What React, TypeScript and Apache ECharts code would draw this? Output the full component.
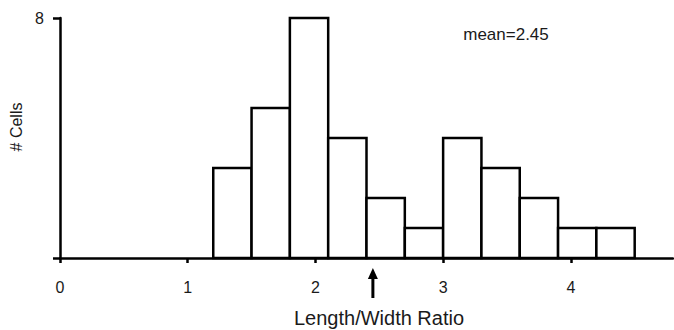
import React, { useEffect, useRef } from "react";
import * as echarts from "echarts";

const binStarts = [1.2, 1.5, 1.8, 2.1, 2.4, 2.7, 3.0, 3.3, 3.6, 3.9, 4.2];
const counts = [3, 5, 8, 4, 2, 1, 4, 3, 2, 1, 1];
const binWidth = 0.3;
const meanValue = 2.45;
const xTicks = [0, 1, 2, 3, 4];
const yTicks = [0, 8];

export default function App() {
  const ref = useRef<HTMLDivElement>(null);
  useEffect(() => {
    if (!ref.current) return;
    const chart = echarts.init(ref.current, undefined, { renderer: "svg" });
    const font = "'Liberation Sans', Arial, sans-serif";
    const txt = "#1a1a1a";
    const barData = binStarts.map((s, i) => [s, counts[i], s + binWidth]);
    chart.setOption({
      animation: false,
      backgroundColor: "#fff",
      grid: { left: 60, right: 1, top: 18, bottom: 72, containLabel: false },
      xAxis: {
        type: "value",
        min: 0,
        max: 4.8,
        interval: 1,
        splitLine: { show: false },
        axisLine: { lineStyle: { color: "#000", width: 2.5 } },
        axisTick: { length: 5, lineStyle: { color: "#000", width: 2.5 } },
        axisLabel: {
          margin: 21,
          color: txt,
          fontFamily: font,
          fontSize: 16,
          formatter: (v: number) => (xTicks.includes(v) ? String(v) : ""),
          showMaxLabel: false,
        },
      },
      yAxis: {
        type: "value",
        min: 0,
        max: 8,
        interval: 8,
        splitLine: { show: false },
        axisLine: { lineStyle: { color: "#000", width: 2.5 } },
        axisTick: { length: 7, lineStyle: { color: "#000", width: 2.5 } },
        axisLabel: {
          margin: 16,
          color: txt,
          fontFamily: font,
          fontSize: 16,
          formatter: (v: number) => (v === yTicks[1] ? String(v) : ""),
        },
      },
      series: [
        {
          type: "custom",
          data: barData,
          encode: { x: [0, 2], y: 1 },
          renderItem: (params: any, api: any) => {
            const x0 = api.value(0);
            const c = api.value(1);
            const x1 = api.value(2);
            const a = api.coord([x0, c]);
            const b = api.coord([x1, 0]);
            return {
              type: "rect",
              shape: { x: a[0], y: a[1], width: b[0] - a[0], height: b[1] - a[1] },
              style: { fill: "#fff", stroke: "#000", lineWidth: 2.5 },
            };
          },
        },
        {
          type: "custom",
          clip: false,
          data: [[meanValue, 0]],
          encode: { x: 0, y: 1 },
          renderItem: (params: any, api: any) => {
            const p = api.coord([api.value(0), 0]);
            const x = p[0];
            const y = p[1];
            return {
              type: "group",
              children: [
                {
                  type: "rect",
                  shape: { x: x - 1.5, y: y + 18, width: 3, height: 22 },
                  style: { fill: "#000" },
                },
                {
                  type: "polygon",
                  shape: { points: [[x, y + 10], [x - 5, y + 21], [x + 5, y + 21]] },
                  style: { fill: "#000" },
                },
              ],
            };
          },
        },
      ],
      graphic: [
        {
          type: "text",
          x: 16,
          y: 127,
          rotation: Math.PI / 2,
          style: {
            text: "# Cells",
            fill: txt,
            font: `16px ${font}`,
            align: "center",
            verticalAlign: "middle",
          },
        },
        {
          type: "text",
          x: 379,
          y: 318,
          style: {
            text: "Length/Width Ratio",
            fill: txt,
            font: `20px ${font}`,
            align: "center",
            verticalAlign: "middle",
          },
        },
        {
          type: "text",
          x: 506,
          y: 34,
          style: {
            text: "mean=2.45",
            fill: txt,
            font: `17px ${font}`,
            align: "center",
            verticalAlign: "middle",
          },
        },
      ],
    });
    return () => chart.dispose();
  }, []);
  return <div ref={ref} style={{ width: 674, height: 330, position: "absolute", left: 0, top: 0 }} />;
}
